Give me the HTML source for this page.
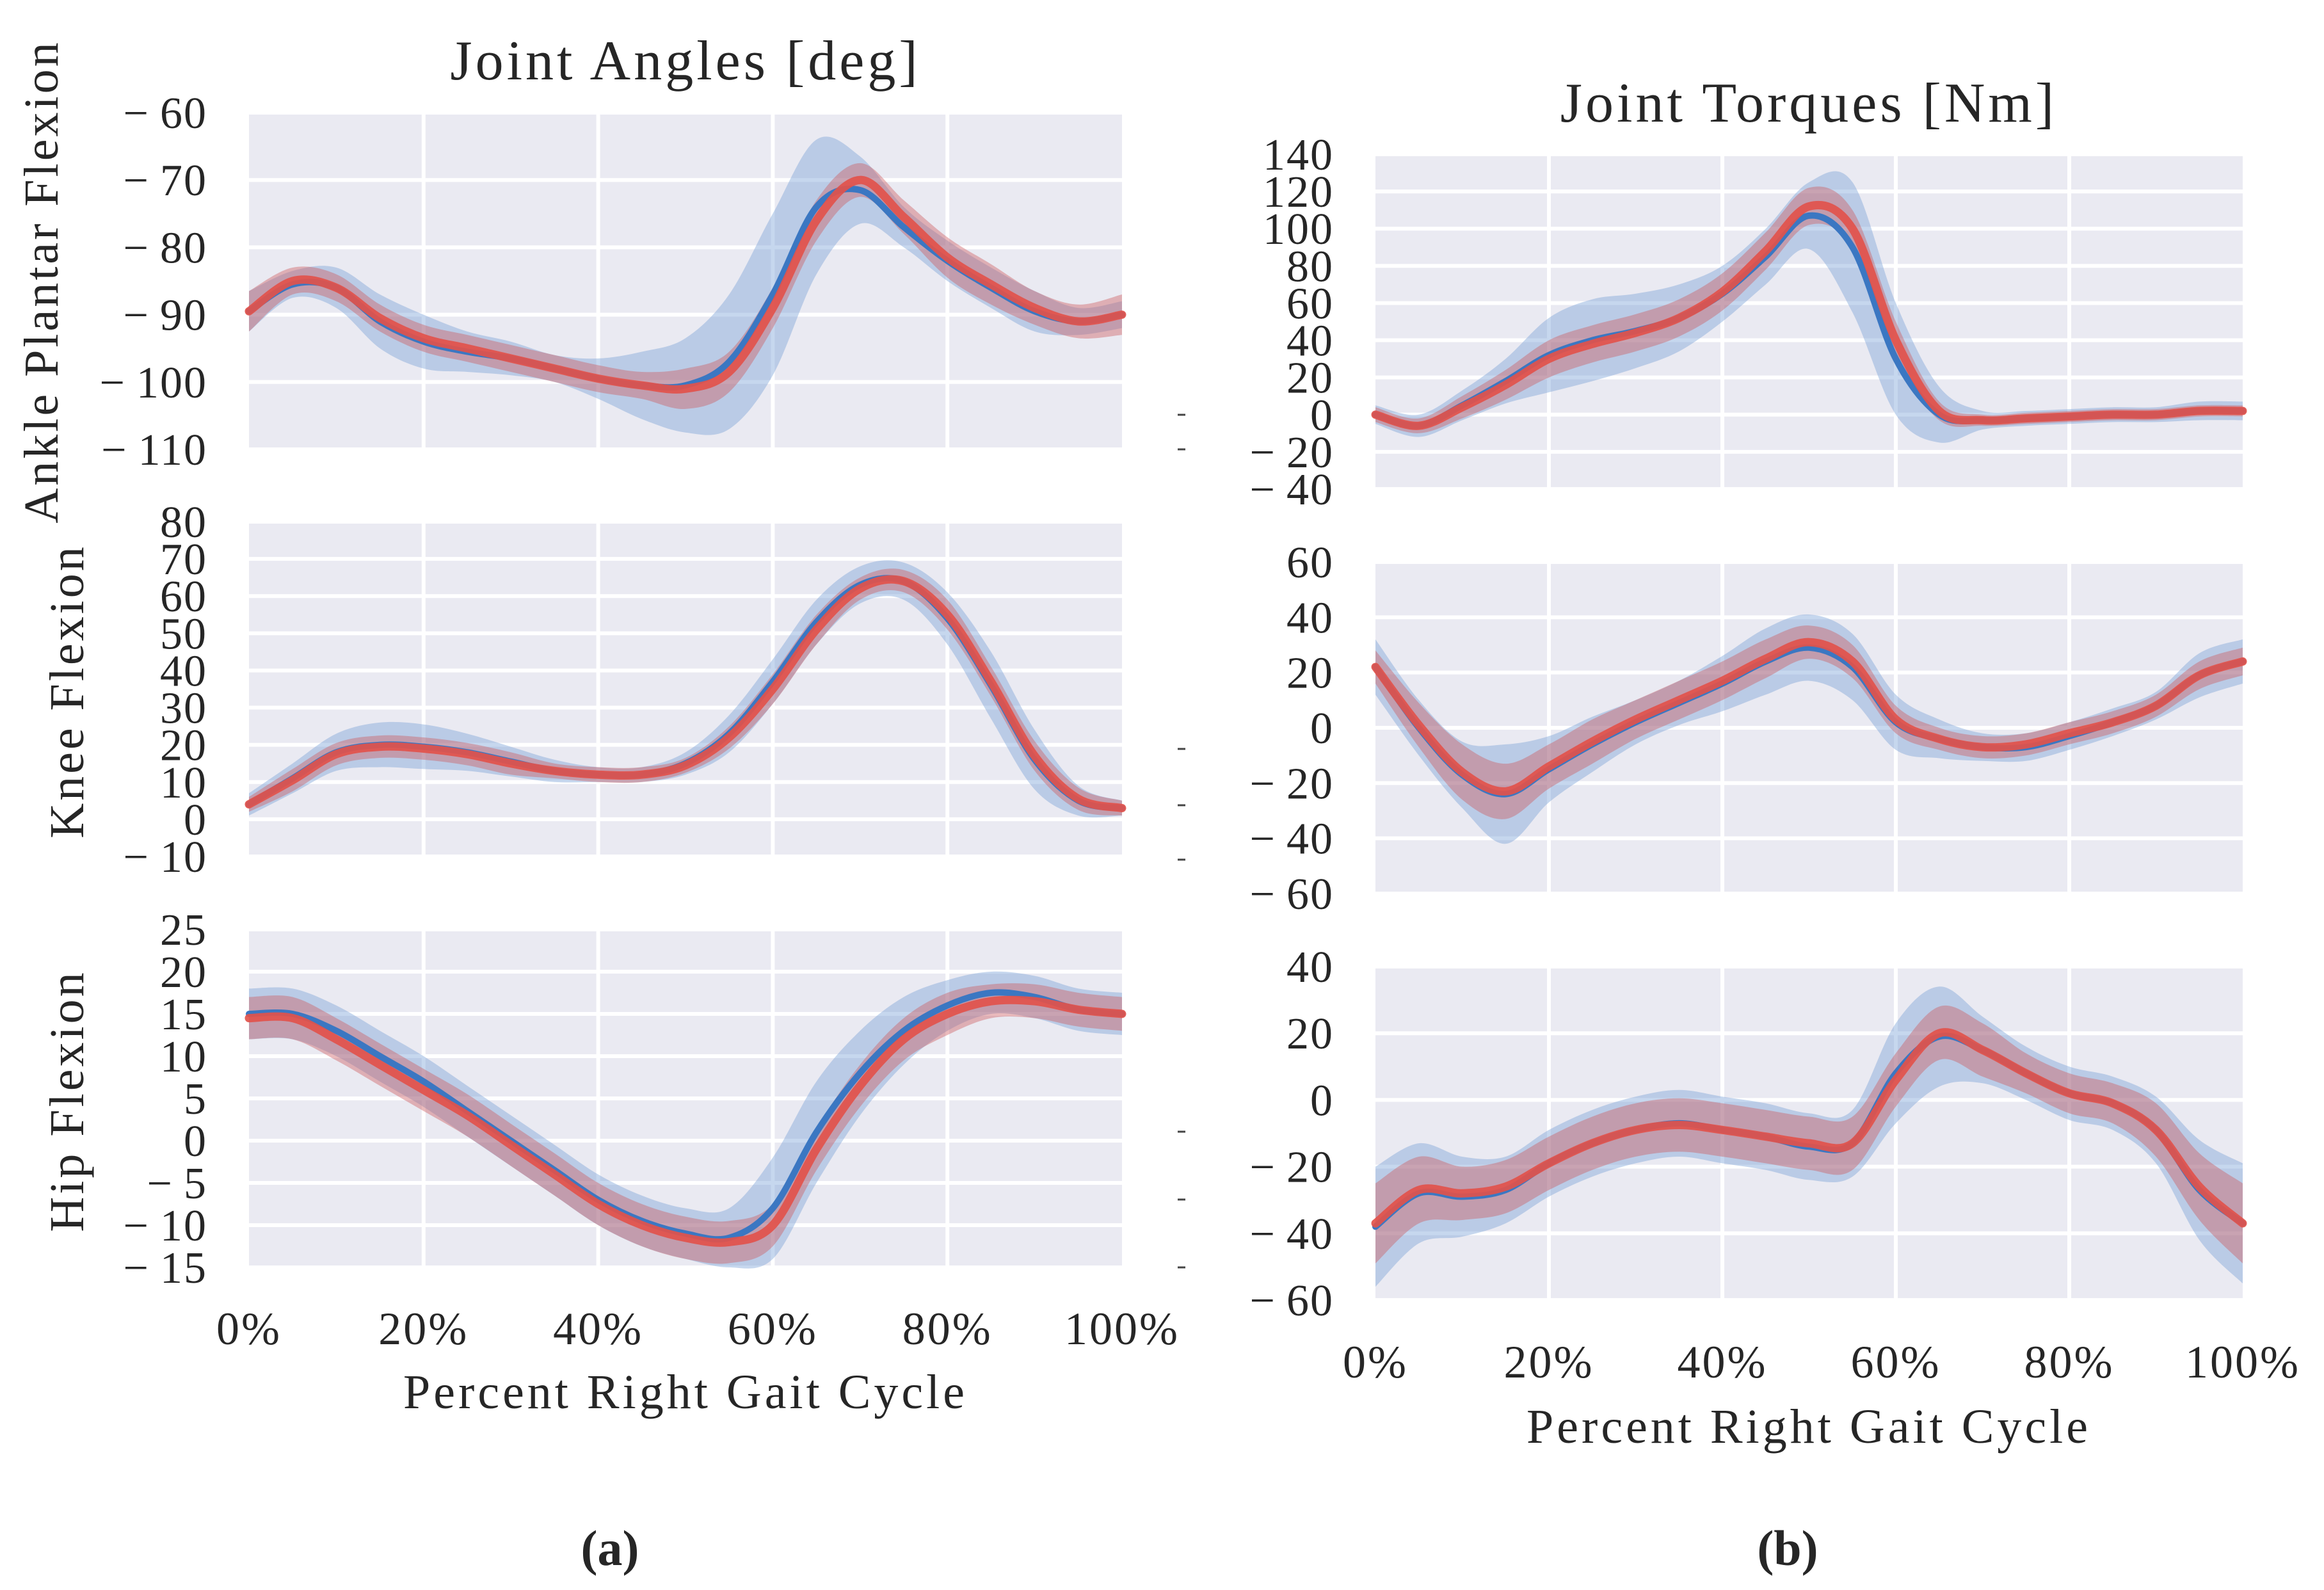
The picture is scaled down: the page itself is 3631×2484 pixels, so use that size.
<!DOCTYPE html>
<html><head><meta charset="utf-8"><style>
html,body{margin:0;padding:0;background:#fff;}
svg{display:block;}
text{font-family:"Liberation Serif","DejaVu Serif",serif;fill:#262626;}
</style></head>
<body>
<svg id="fig" width="3631" height="2484" viewBox="0 0 3631 2484" xmlns="http://www.w3.org/2000/svg">
<text x="1071" y="124" font-size="88" letter-spacing="5" text-anchor="middle">Joint Angles [deg]</text>
<text x="2826" y="190" font-size="88" letter-spacing="5" text-anchor="middle">Joint Torques [Nm]</text>
<text x="1071" y="2200" font-size="76" letter-spacing="5" text-anchor="middle">Percent Right Gait Cycle</text>
<text x="2826" y="2254" font-size="76" letter-spacing="5" text-anchor="middle">Percent Right Gait Cycle</text>
<text x="953" y="2445" font-size="78" font-weight="bold" text-anchor="middle">(a)</text>
<text x="2793" y="2445" font-size="78" font-weight="bold" text-anchor="middle">(b)</text>
</svg>
<script>
const pct = [0,5,10,15,20,25,30,35,40,45,50,55,60,65,70,75,80,85,90,95,100];
const xTickLabels = ['0%','20%','40%','60%','80%','100%'];

const ankleAngleBlue = [-89.5,-85.5,-86,-91,-94,-95.5,-96.5,-98,-99.5,-100.5,-100.5,-97,-87,-74,-71.5,-77,-82,-86,-89.5,-91,-90];
const ankleAngleRed  = [-89.5,-85,-86,-90.5,-93.5,-95,-96.5,-98,-99.5,-100.5,-101,-98.5,-89,-76,-70,-75.5,-81.5,-85.5,-89,-91,-90];
const ankleAngleBlueSd = [3,2,3,4,4,3,2.5,2,3,5,7,10,12,10,5,3,3,3,3,2,2];
const ankleAngleRedSd  = [3,2,2,2,2,2,2,2,2,2,3,3,3,3,2.5,2.5,3,3,2.5,2.5,3];
const ankleAngleTicks = [-60,-70,-80,-90,-100,-110];

const kneeAngleBlue = [4,11,18,20,19.5,18,15.5,13,12,12,15,23,37,53,63,64,54,36,16,5,3];
const kneeAngleRed  = [4,10.5,17.5,19.5,19,17.5,15,13,12,12,14.5,22,35,51,62,64,55,37,17,5.5,3];
const kneeAngleBlueSd = [3,4,5,6,6,5,4,3,2,2,3,5,6,6,5,5,7,9,8,4,2];
const kneeAngleRedSd  = [2,3,3,3,3,3,3,2,2,2,2,3,4,4,3,3,4,4,4,3,2];
const kneeAngleTicks = [80,70,60,50,40,30,20,10,0,-10];

const hipAngleBlue = [15,15,13,10,7,3.5,0,-3.5,-7,-9.5,-11,-11.5,-8,1,8,13,16,17.5,17,15.5,15];
const hipAngleRed  = [14.5,14.5,12,9,6,3,-0.5,-4,-7.5,-10,-11.5,-12,-10,-1,6.5,12,15,16.5,16.5,15.5,15];
const hipAngleBlueSd = [3,3,3,3,3,3,3,3,3,3,3,3.5,6,6,5,4,3,2.5,2.5,2.5,2.5];
const hipAngleRedSd  = [2.5,2.5,2.5,2.5,2.5,2.5,2.5,2.5,2.5,2.5,2.5,2.5,2.5,2.5,2.5,2.5,2.5,2,2,2,2];
const hipAngleTicks = [25,20,15,10,5,0,-5,-10,-15];

const ankleTorqueBlue = [0,-6,5,18,32,40,45,52,65,85,107,90,30,0,-3,-2,-1,0,0,2,2];
const ankleTorqueRed  = [0,-6,4,16,30,38,44,52,66,88,112,100,40,2,-3,-2,-1,0,0,2,2];
const ankleTorqueBlueSd = [5,6,8,12,20,22,20,18,15,15,18,35,30,15,5,4,4,4,4,5,5];
const ankleTorqueRedSd  = [4,4,6,8,10,10,10,10,10,10,10,10,10,5,3,3,3,3,3,3,3];
const ankleTorqueTicks = [140,120,100,80,60,40,20,0,-20,-40];

const kneeTorqueBlue = [22,0,-17,-24,-15,-6,2,9,16,24,29,22,2,-4,-7,-7,-3,2,8,19,24];
const kneeTorqueRed  = [22,1,-16,-23,-14,-5,3,10,17,25,31,24,3,-4,-7,-6,-2,2,8,19,24];
const kneeTorqueBlueSd = [10,10,12,18,12,10,8,8,10,12,12,12,10,7,5,5,5,5,5,8,8];
const kneeTorqueRedSd  = [6,8,10,10,8,8,7,7,7,7,6,6,5,4,4,4,4,4,4,5,5];
const kneeTorqueTicks = [60,40,20,0,-20,-40,-60];

const hipTorqueBlue = [-38,-28,-29,-27,-19,-13,-9,-7,-9,-11,-14,-13,8,19,15,8,2,-1,-9,-27,-37];
const hipTorqueRed  = [-37,-27,-28,-26,-19,-13,-9,-7.5,-9,-11,-13,-13,6,20,15,8,2,-1,-9,-26,-37];
const hipTorqueBlueSd = [18,15,12,10,10,10,10,10,10,10,10,10,15,15,10,8,8,8,10,15,18];
const hipTorqueRedSd  = [12,10,8,8,8,8,8,8,8,8,8,8,8,8,8,6,6,6,8,10,12];
const hipTorqueTicks = [40,20,0,-20,-40,-60];

const NS='http://www.w3.org/2000/svg';
const svg=document.getElementById('fig');
function mk(tag,attrs,parent){const e=document.createElementNS(NS,tag);for(const k in attrs)e.setAttribute(k,attrs[k]);(parent||svg).appendChild(e);return e;}

function smooth(pts){
  let d='M'+pts[0][0].toFixed(1)+','+pts[0][1].toFixed(1);
  for(let i=0;i<pts.length-1;i++){
    const p0=pts[Math.max(0,i-1)],p1=pts[i],p2=pts[i+1],p3=pts[Math.min(pts.length-1,i+2)];
    const c1=[p1[0]+(p2[0]-p0[0])/6,p1[1]+(p2[1]-p0[1])/6];
    const c2=[p2[0]-(p3[0]-p1[0])/6,p2[1]-(p3[1]-p1[1])/6];
    d+='C'+c1[0].toFixed(1)+','+c1[1].toFixed(1)+' '+c2[0].toFixed(1)+','+c2[1].toFixed(1)+' '+p2[0].toFixed(1)+','+p2[1].toFixed(1);
  }
  return d;
}
function bandPath(xs,ys,sd,X,Y){
  const up=xs.map((x,i)=>[X(x),Y(ys[i]+sd[i])]);
  const lo=xs.map((x,i)=>[X(x),Y(ys[i]-sd[i])]).reverse();
  return smooth(up)+'L'+smooth(lo).slice(1)+'Z';
}

function panel(name,x0,x1,y0,y1,ymin,ymax,ticks,blue,red,bsd,rsd,showX,tickRight,ylab){
  const g=mk('g',{});
  
  
  const X=v=>x0+(v/100)*(x1-x0);
  const Y=v=>y1-(v-ymin)/(ymax-ymin)*(y1-y0);
  const bg=mk('rect',{x:x0,y:y0,width:x1-x0,height:y1-y0,fill:'#eaeaf2'},g);
  
  
  ticks.forEach(t=>{
    const yy=Y(t);
    const gl=mk('line',{x1:x0,x2:x1,y1:yy,y2:yy,stroke:'#fff','stroke-width':6},g);
    
    
    const tl=mk('text',{x:tickRight,y:yy+24,'font-size':70,'letter-spacing':2,'text-anchor':'end'},g);
    
    
    tl.textContent=(t<0?'\u2212\u2009':'')+Math.abs(t);
  });
  [20,40,60,80].forEach(p=>{
    const gl=mk('line',{x1:X(p),x2:X(p),y1:y0,y2:y1,stroke:'#fff','stroke-width':6},g);
    
    
  });
  const bb=mk('path',{d:bandPath(pct,blue,bsd,X,Y),fill:'rgba(120,160,215,0.42)'},g);
  
  
  const rb=mk('path',{d:bandPath(pct,red,rsd,X,Y),fill:'rgba(205,90,95,0.42)'},g);
  
  
  const bl=mk('path',{d:smooth(pct.map((x,i)=>[X(x),Y(blue[i])])),fill:'none',stroke:'#3b77c2','stroke-width':10,'stroke-linecap':'round'},g);
  
  
  const rl=mk('path',{d:smooth(pct.map((x,i)=>[X(x),Y(red[i])])),fill:'none',stroke:'#e2534b','stroke-width':13,'stroke-linecap':'round','stroke-opacity':0.92},g);
  
  
  if(showX!==null){
    xTickLabels.forEach((lab,i)=>{
      const t=mk('text',{x:X(i*20),y:showX,'font-size':72,'letter-spacing':3,'text-anchor':'middle'},g);
      
      
      t.textContent=lab;
    });
  }
  if(ylab){
    const t=mk('text',{x:0,y:0,'font-size':76,'letter-spacing':4,'text-anchor':'middle',transform:'translate('+ylab[0]+','+ylab[1]+') rotate(-90)'},g);
    
    
    t.textContent=ylab[2];
  }
}

const LX0=389,LX1=1753,RX0=2149,RX1=3504;
panel('ankle-angle',LX0,LX1,176,702,-110,-60,ankleAngleTicks,ankleAngleBlue,ankleAngleRed,ankleAngleBlueSd,ankleAngleRedSd,null,324,[90,440,'Ankle Plantar Flexion']);
panel('knee-angle',LX0,LX1,815,1338,-10,80,kneeAngleTicks,kneeAngleBlue,kneeAngleRed,kneeAngleBlueSd,kneeAngleRedSd,null,324,[130,1080,'Knee Flexion']);
panel('hip-angle',LX0,LX1,1452,1980,-15,25,hipAngleTicks,hipAngleBlue,hipAngleRed,hipAngleBlueSd,hipAngleRedSd,2100,324,[130,1720,'Hip Flexion']);
panel('ankle-torque',RX0,RX1,241,764,-40,140,ankleTorqueTicks,ankleTorqueBlue,ankleTorqueRed,ankleTorqueBlueSd,ankleTorqueRedSd,null,2084,null);
panel('knee-torque',RX0,RX1,878,1396,-60,60,kneeTorqueTicks,kneeTorqueBlue,kneeTorqueRed,kneeTorqueBlueSd,kneeTorqueRedSd,null,2084,null);
panel('hip-torque',RX0,RX1,1510,2031,-60,40,hipTorqueTicks,hipTorqueBlue,hipTorqueRed,hipTorqueBlueSd,hipTorqueRedSd,2152,2084,null);

[648,702,1170,1258,1343,1768,1874,1980].forEach(y=>{
  const l=mk('line',{x1:1840,x2:1852,y1:y,y2:y,stroke:'#444','stroke-width':3});
  
  
});
</script>
</body></html>
